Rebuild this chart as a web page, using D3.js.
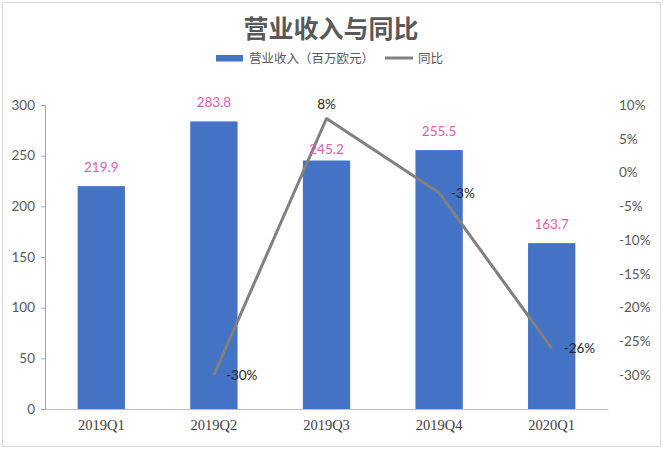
<!DOCTYPE html>
<html><head><meta charset="utf-8">
<script src="https://cdn.jsdelivr.net/npm/d3@7"></script>
<style>body{margin:0;background:#fff}svg{display:block}</style>
</head><body>
<svg id="c" width="663" height="449"></svg>
<script>
const categories = ["2019Q1","2019Q2","2019Q3","2019Q4","2020Q1"];
const revenue = [219.9, 283.8, 245.2, 255.5, 163.7];
const yoy = [null, -30, 8, -3, -26];
const leftTicks = [0,50,100,150,200,250,300];
const rightTicks = [10,5,0,-5,-10,-15,-20,-25,-30];
const title = "营业收入与同比";
const legendBar = "营业收入（百万欧元）";
const legendLine = "同比";

const svg = d3.select("#c");
const W = 663, H = 449;
const m = {l:45, r:55};
const x0 = m.l, x1 = W - m.r, yTop = 105, yBot = 409;

svg.append("rect").attr("x",2.5).attr("y",2.5).attr("width",W-5).attr("height",H-5)
  .attr("fill","#fff").attr("stroke","#d9d9d9");

const x = d3.scaleBand().domain(categories).range([x0, x1]).paddingInner(0.58).paddingOuter(0.29);
const y = d3.scaleLinear().domain([0,300]).range([yBot, yTop]);
const y2 = d3.scaleLinear().domain([-35,10]).range([yBot, yTop]);

// title
svg.append("text").attr("x",331).attr("y",38).attr("text-anchor","middle")
  .attr("font-family","'Noto Sans CJK SC'").attr("font-weight","bold").attr("font-size",25)
  .attr("fill","#595959").text(title);

// legend
svg.append("rect").attr("x",216).attr("y",55).attr("width",27).attr("height",6.5).attr("fill","#4472C4");
svg.append("text").attr("x",249).attr("y",63).attr("font-family","'Noto Sans CJK SC'").attr("font-size",12.5)
  .attr("fill","#595959").text(legendBar);
svg.append("line").attr("x1",385).attr("x2",413).attr("y1",58).attr("y2",58).attr("stroke","#808080").attr("stroke-width",3);
svg.append("text").attr("x",418).attr("y",63).attr("font-family","'Noto Sans CJK SC'").attr("font-size",12.5)
  .attr("fill","#595959").text(legendLine);

// bars
svg.append("g").selectAll("rect").data(revenue).join("rect")
  .attr("x",(d,i)=>x(categories[i])).attr("width",x.bandwidth())
  .attr("y",d=>y(d)).attr("height",d=>yBot-y(d)).attr("fill","#4472C4");

// left axis
const gl = svg.append("g").attr("transform",`translate(${x0},0)`)
  .call(d3.axisLeft(y).tickValues(leftTicks).tickSize(4).tickPadding(6));
gl.select(".domain").attr("stroke","#a6a6a6");
gl.selectAll(".tick line").attr("stroke","#a6a6a6");
gl.selectAll("text").attr("font-family","Lato").attr("font-size",13.5).attr("fill","#595959");

// right axis
const gr = svg.append("g").attr("transform",`translate(${x1+8},0)`)
  .call(d3.axisRight(y2).tickValues(rightTicks).tickSize(0).tickFormat(d=>d+"%"));
gr.select(".domain").remove();
gr.selectAll("text").attr("font-family","Lato").attr("font-size",13.5).attr("fill","#595959");

// bottom axis
const gb = svg.append("g").attr("transform",`translate(0,${yBot})`)
  .call(d3.axisBottom(x).tickSize(0).tickPadding(11));
gb.select(".domain").attr("stroke","#bfbfbf");
gb.selectAll("text").attr("font-family","'Liberation Serif'").attr("font-size",14.5).attr("fill","#404040");

// line
const pts = yoy.map((v,i)=>({v,i})).filter(d=>d.v!==null);
svg.append("path").datum(pts)
  .attr("d",d3.line().x(d=>x(categories[d.i])+x.bandwidth()/2).y(d=>y2(d.v)))
  .attr("fill","none").attr("stroke","#808080").attr("stroke-width",3).attr("stroke-linejoin","round");

// bar labels
const maxV = d3.max(pts,d=>d.v);
svg.append("g").selectAll("text").data(revenue).join("text")
  .attr("x",(d,i)=>x(categories[i])+x.bandwidth()/2)
  .attr("y",(d,i)=>y(d)-(yoy[i]===maxV?7:14))
  .attr("text-anchor","middle").attr("font-family","Lato").attr("font-size",13.5)
  .attr("fill","#E05DB4").text(d=>d.toFixed(1));

// line labels
svg.append("g").selectAll("text").data(pts).join("text")
  .attr("x",d=>x(categories[d.i])+x.bandwidth()/2 + (d.v===maxV?0:12))
  .attr("y",d=>y2(d.v) + (d.v===maxV?-10:5))
  .attr("text-anchor",d=>d.v===maxV?"middle":"start")
  .attr("font-family","Lato").attr("font-size",13.5).attr("fill","#262626")
  .text(d=>d.v+"%");
</script>
</body></html>
